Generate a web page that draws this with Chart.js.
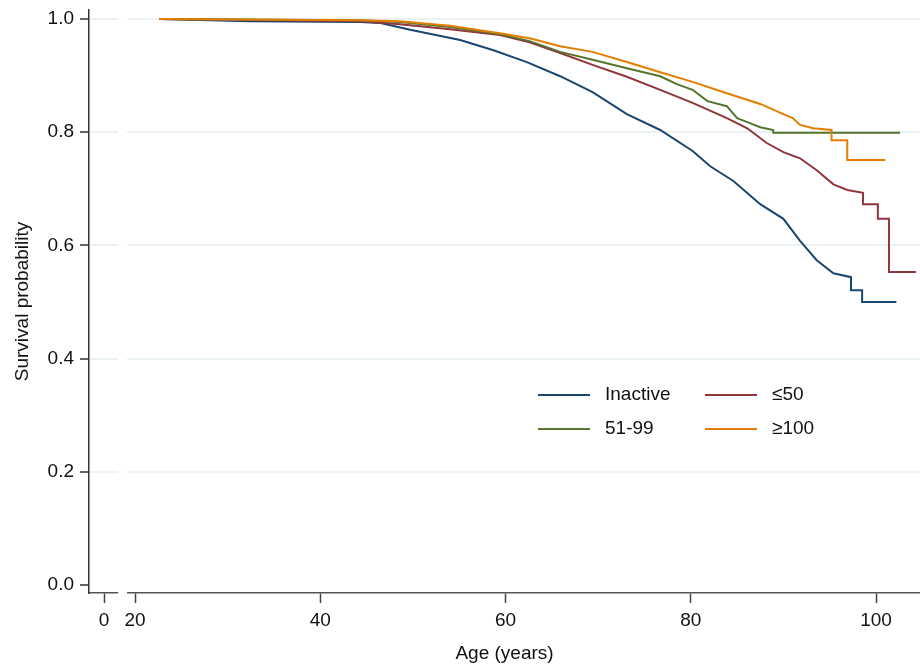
<!DOCTYPE html>
<html>
<head>
<meta charset="utf-8">
<script src="https://cdn.jsdelivr.net/npm/chart.js@4.4.1/dist/chart.umd.min.js"></script>
<style>
  body { margin: 0; background: #fff; }
  #myChart { display: block; }
</style>
</head>
<body>
<canvas id="myChart" width="920" height="665"></canvas>
<script>
// Données (âge en années, probabilité de survie)
const groupes = ["Inactive", "≤50", "51-99", "≥100"];
const couleurs = ["#1a476f", "#90353b", "#55752f", "#e37e00"];

const agesInactif = [22.6, 32.4, 44.3, 46.5, 49.7, 55.1, 58.7, 62.3, 65.9, 69.4, 73.1, 76.7, 80.2, 82.1, 84.6, 87.5, 90.0, 91.8, 93.6, 95.4, 97.3, 97.3, 98.5, 98.5, 102.2];
const survInactif = [1.0, 0.996, 0.995, 0.993, 0.981, 0.963, 0.945, 0.924, 0.899, 0.871, 0.832, 0.804, 0.767, 0.740, 0.714, 0.673, 0.647, 0.608, 0.574, 0.551, 0.544, 0.521, 0.521, 0.500, 0.500];

const ages50 = [22.6, 44.3, 48.6, 54.0, 59.4, 62.6, 65.9, 69.4, 73.1, 76.7, 80.2, 83.9, 86.1, 88.2, 90.0, 91.8, 93.6, 95.4, 96.9, 98.6, 98.6, 100.2, 100.2, 101.4, 101.4, 104.3];
const surv50 = [1.0, 0.996, 0.991, 0.982, 0.972, 0.959, 0.940, 0.919, 0.898, 0.875, 0.852, 0.825, 0.807, 0.781, 0.765, 0.754, 0.733, 0.708, 0.698, 0.693, 0.673, 0.673, 0.647, 0.647, 0.553, 0.553];

const ages51_99 = [22.6, 44.3, 48.6, 54.0, 59.4, 62.6, 65.9, 69.4, 73.1, 76.7, 78.5, 80.2, 81.8, 83.9, 85.0, 86.1, 87.5, 88.9, 88.9, 102.6];
const surv51_99 = [1.0, 0.998, 0.995, 0.986, 0.973, 0.961, 0.942, 0.928, 0.913, 0.899, 0.885, 0.875, 0.855, 0.846, 0.825, 0.818, 0.809, 0.804, 0.799, 0.799];

const ages100 = [22.6, 44.3, 48.6, 54.0, 59.4, 62.6, 65.9, 69.4, 73.1, 76.7, 80.2, 83.9, 87.5, 90.0, 91.0, 91.8, 93.2, 95.2, 95.2, 96.9, 96.9, 101.0];
const surv100 = [1.0, 0.998, 0.996, 0.988, 0.975, 0.966, 0.952, 0.942, 0.924, 0.906, 0.889, 0.869, 0.850, 0.832, 0.825, 0.813, 0.807, 0.804, 0.786, 0.786, 0.751, 0.751];

// Graduations (axe X coupé : le "0" est placé avant la coupure)
const POS_ZERO = 16.65;
const COUPURE_DEBUT = 18.17;
const COUPURE_FIN = 19.14;
const xTicks = [POS_ZERO, 20, 40, 60, 80, 100];
const xLabels = ["0", "20", "40", "60", "80", "100"];
const yTicks = [0, 0.2, 0.4, 0.6, 0.8, 1.0];

const police = "'Liberation Sans', Arial, sans-serif";
const taille = 19;
const couleurTexte = "#111";

function points(ages, surv) {
    return ages.map((a, i) => ({ x: a, y: surv[i] }));
}

const series = [
    points(agesInactif, survInactif),
    points(ages50, surv50),
    points(ages51_99, surv51_99),
    points(ages100, surv100)
];

const datasets = series.map((data, i) => ({
    label: groupes[i],
    data: data,
    borderColor: couleurs[i],
    backgroundColor: couleurs[i],
    borderWidth: 2,
    pointRadius: 0,
    fill: false,
    tension: 0,
    order: groupes.length - i
}));

// Coupure de l'axe X : on efface axe et grille entre les deux valeurs
const coupureAxe = {
    id: "coupureAxe",
    afterDraw(chart) {
        const x = chart.scales.x;
        const area = chart.chartArea;
        const x1 = x.getPixelForValue(COUPURE_DEBUT);
        const x2 = x.getPixelForValue(COUPURE_FIN);
        const ctx = chart.ctx;
        ctx.save();
        ctx.fillStyle = "#ffffff";
        ctx.fillRect(x1, area.top, x2 - x1, area.bottom - area.top + 3);
        ctx.restore();
    }
};

// Légende dans la zone du graphique, sur deux colonnes
const legendeInterne = {
    id: "legendeInterne",
    afterDraw(chart, args, opts) {
        const ctx = chart.ctx;
        ctx.save();
        ctx.font = taille + "px " + police;
        ctx.textBaseline = "middle";
        ctx.textAlign = "left";
        chart.data.datasets.forEach((ds, i) => {
            const col = i % 2;
            const row = Math.floor(i / 2);
            const xl = opts.colX[col];
            const y = opts.rowY[row];
            ctx.strokeStyle = ds.borderColor;
            ctx.lineWidth = 2;
            ctx.beginPath();
            ctx.moveTo(xl, y);
            ctx.lineTo(xl + opts.lineLen, y);
            ctx.stroke();
            ctx.fillStyle = couleurTexte;
            ctx.fillText(ds.label, xl + opts.lineLen + opts.gap, y);
        });
        ctx.restore();
    }
};

const ctx = document.getElementById("myChart").getContext("2d");
const myChart = new Chart(ctx, {
    type: "line",
    data: { datasets: datasets },
    plugins: [coupureAxe, legendeInterne],
    options: {
        responsive: false,
        animation: false,
        devicePixelRatio: 1,
        layout: { padding: { top: 10, right: 0, left: 0, bottom: 0 } },
        plugins: {
            legend: { display: false },
            tooltip: { enabled: false },
            legendeInterne: { colX: [538, 705], rowY: [395, 429], lineLen: 52, gap: 15 }
        },
        scales: {
            x: {
                type: "linear",
                min: 15.03,
                max: 104.75,
                afterBuildTicks: scale => { scale.ticks = xTicks.map(v => ({ value: v })); },
                afterFit: scale => {
                    scale.height = 72;
                    scale.paddingLeft = 0;
                    scale.paddingRight = 0;
                },
                ticks: {
                    autoSkip: false,
                    maxRotation: 0,
                    padding: 6,
                    color: couleurTexte,
                    font: { family: police, size: taille },
                    callback: (value, index) => xLabels[index]
                },
                grid: {
                    drawOnChartArea: false,
                    tickLength: 10,
                    tickColor: "#444",
                    tickWidth: 1.5
                },
                border: { color: "#555", width: 1.5 },
                title: {
                    display: true,
                    text: "Age (years)",
                    color: couleurTexte,
                    font: { family: police, size: taille },
                    padding: { top: 1.5, bottom: 0 }
                }
            },
            y: {
                min: -0.014,
                max: 1.016,
                afterBuildTicks: scale => { scale.ticks = yTicks.map(v => ({ value: v })); },
                afterFit: scale => {
                    scale.width = 89;
                    scale.paddingTop = 0;
                    scale.paddingBottom = 0;
                },
                ticks: {
                    padding: 6,
                    color: couleurTexte,
                    font: { family: police, size: taille },
                    callback: value => value.toFixed(1)
                },
                grid: {
                    color: c => (c.tick && c.tick.value === 0) ? "rgba(0,0,0,0)" : "#eaf2f3",
                    lineWidth: 2,
                    tickLength: 9,
                    tickColor: "#333",
                    tickWidth: 1.5
                },
                border: { color: "#333", width: 1.5 },
                title: {
                    display: true,
                    text: "Survival probability",
                    color: couleurTexte,
                    font: { family: police, size: taille },
                    padding: { top: 11, bottom: 0 }
                }
            }
        }
    }
});
</script>
</body>
</html>
